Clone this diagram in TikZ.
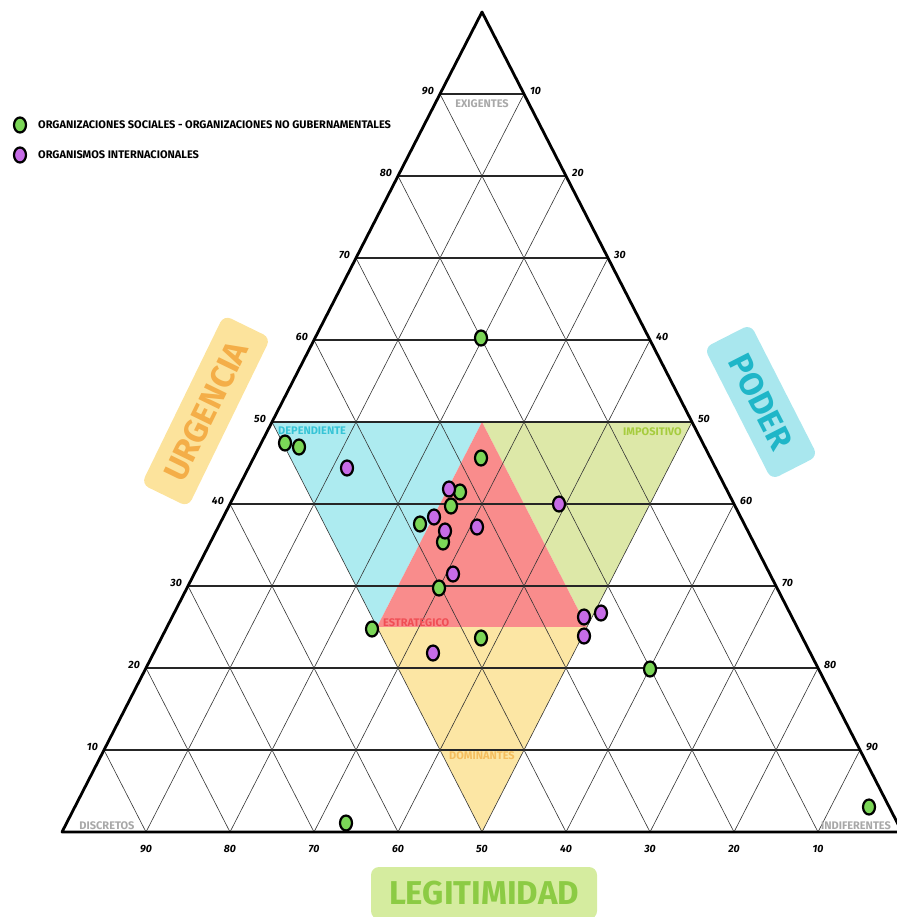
\documentclass[tikz,border=0pt]{standalone}
\usepackage{fontspec}
\setmainfont{Fira Sans}
\usetikzlibrary{shapes.geometric}
\definecolor{depfill}{HTML}{ADEBF0}
\definecolor{estfill}{HTML}{F98C8C}
\definecolor{impfill}{HTML}{DDE8A8}
\definecolor{domfill}{HTML}{FCE6A4}
\definecolor{deptext}{HTML}{36C4D6}
\definecolor{esttext}{HTML}{F04E55}
\definecolor{imptext}{HTML}{A6CC3E}
\definecolor{domtext}{HTML}{F5BE5E}
\definecolor{graytext}{HTML}{A8A8A8}
\definecolor{urgbox}{HTML}{FCE39C}
\definecolor{urgtext}{HTML}{F4AE48}
\definecolor{podbox}{HTML}{A9E7EE}
\definecolor{podtext}{HTML}{1FB6C8}
\definecolor{legbox}{HTML}{D5EC9F}
\definecolor{legtext}{HTML}{8CCB44}
\definecolor{ongfill}{HTML}{7BD657}
\definecolor{oifill}{HTML}{C66CE6}
\tikzset{
  hline/.style={line width=1.2pt, black!85},
  dline/.style={line width=0.6pt, black!80},
  ticklab/.style={font=\fontsize{10.5}{11}\selectfont\bfseries\itshape, inner sep=0pt},
  zonelab/.style={font=\fontsize{11}{12}\selectfont\bfseries, inner sep=0pt},
  bigbox/.style={rounded corners=8pt, font=\fontsize{33}{35}\selectfont\bfseries, inner sep=0pt},
  ong/.style={ellipse, draw=black, line width=2.2pt, fill=ongfill, minimum width=12pt, minimum height=15pt, inner sep=0pt},
  oi/.style={ong, fill=oifill}
}
\begin{document}
\begin{tikzpicture}[x=1pt, y=-1pt, line join=round, line cap=round]
\useasboundingbox (0,0) rectangle (896,917);
\path (62,832) coordinate (L) (902,832) coordinate (R) (482,12) coordinate (T);
\path (272,422) coordinate (u5l) (482,422) coordinate (u5m) (692,422) coordinate (u5r)
      (377,627) coordinate (u2l) (587,627) coordinate (u2r) (482,832) coordinate (b5);
% zonas
\fill[depfill] (u5l)--(u5m)--(u2l)--cycle;
\fill[impfill] (u5m)--(u5r)--(u2r)--cycle;
\fill[estfill] (u5m)--(u2l)--(u2r)--cycle;
\fill[domfill] (u2l)--(u2r)--(b5)--cycle;
% rejilla
\foreach \k in {1,...,9} {
  \draw[hline] (62+42*\k,832-82*\k)--(902-42*\k,832-82*\k);
  \draw[dline] (62+84*\k,832)--(62+42*\k,832-82*\k);
  \draw[dline] (62+84*\k,832)--(482+42*\k,12+82*\k);
  \pgfmathtruncatemacro\lab{10*\k}
  \pgfmathtruncatemacro\rlab{100-10*\k}
  \node[ticklab, anchor=east] (tl\k) at (56+42*\k,829-82*\k) {\lab};
  \node[ticklab, anchor=west] (tr\k) at (908-42*\k,829-82*\k) {\rlab};
  \node[ticklab] (tb\k) at (62+84*\k,849) {\rlab};
}
\draw[line width=2.8pt] (L)--(R)--(T)--cycle;
% nombres de zonas
\node[zonelab, text=deptext, anchor=west] (dep) at (278,431) {DEPENDIENTE};
\node[zonelab, text=imptext, anchor=east] (imp) at (682,432) {IMPOSITIVO};
\node[zonelab, text=esttext, anchor=west] (est) at (383,623) {ESTRATEGICO};
\node[zonelab, text=domtext] (dom) at (482,756) {DOMINANTES};
\node[zonelab, text=graytext] (exi) at (482,104) {EXIGENTES};
\node[zonelab, text=graytext] (dis) at (107,826) {DISCRETOS};
\node[zonelab, text=graytext] (ind) at (856,826) {INDIFERENTES};
% ejes
\node[bigbox, fill=urgbox, text=urgtext, rotate=64, minimum width=188pt, minimum height=52pt] (urg) at (206,411) {URGENCIA};
\node[bigbox, fill=podbox, text=podtext, rotate=-63, minimum width=148pt, minimum height=52pt] (pod) at (761,402) {PODER};
\node[bigbox, fill=legbox, text=legtext, minimum width=226pt, minimum height=52pt] (leg) at (484,893) {LEGITIMIDAD};
% leyenda
\node[ong] (kong) at (20,125) {};
\node[oi] (koi) at (20,155) {};
\node[zonelab, anchor=west] at ([xshift=18pt]kong.center) {ORGANIZACIONES SOCIALES - ORGANIZACIONES NO GUBERNAMENTALES};
\node[zonelab, anchor=west] at ([xshift=18pt]koi.center) {ORGANISMOS INTERNACIONALES};
% actores
\foreach \x/\y [count=\i] in {481/338,285/443,299/447,481/458,460/492,451/506,420/524,443/542,439/588,372/629,481/638,650/669,346/823,869/807}
  \node[ong] (g\i) at (\x,\y) {};
\foreach \x/\y [count=\i] in {347/468,449/489,434/517,445/531,477/527,453/574,559/504,584/617,601/613,584/636,433/653}
  \node[oi] (p\i) at (\x,\y) {};
\end{tikzpicture}
\end{document}
